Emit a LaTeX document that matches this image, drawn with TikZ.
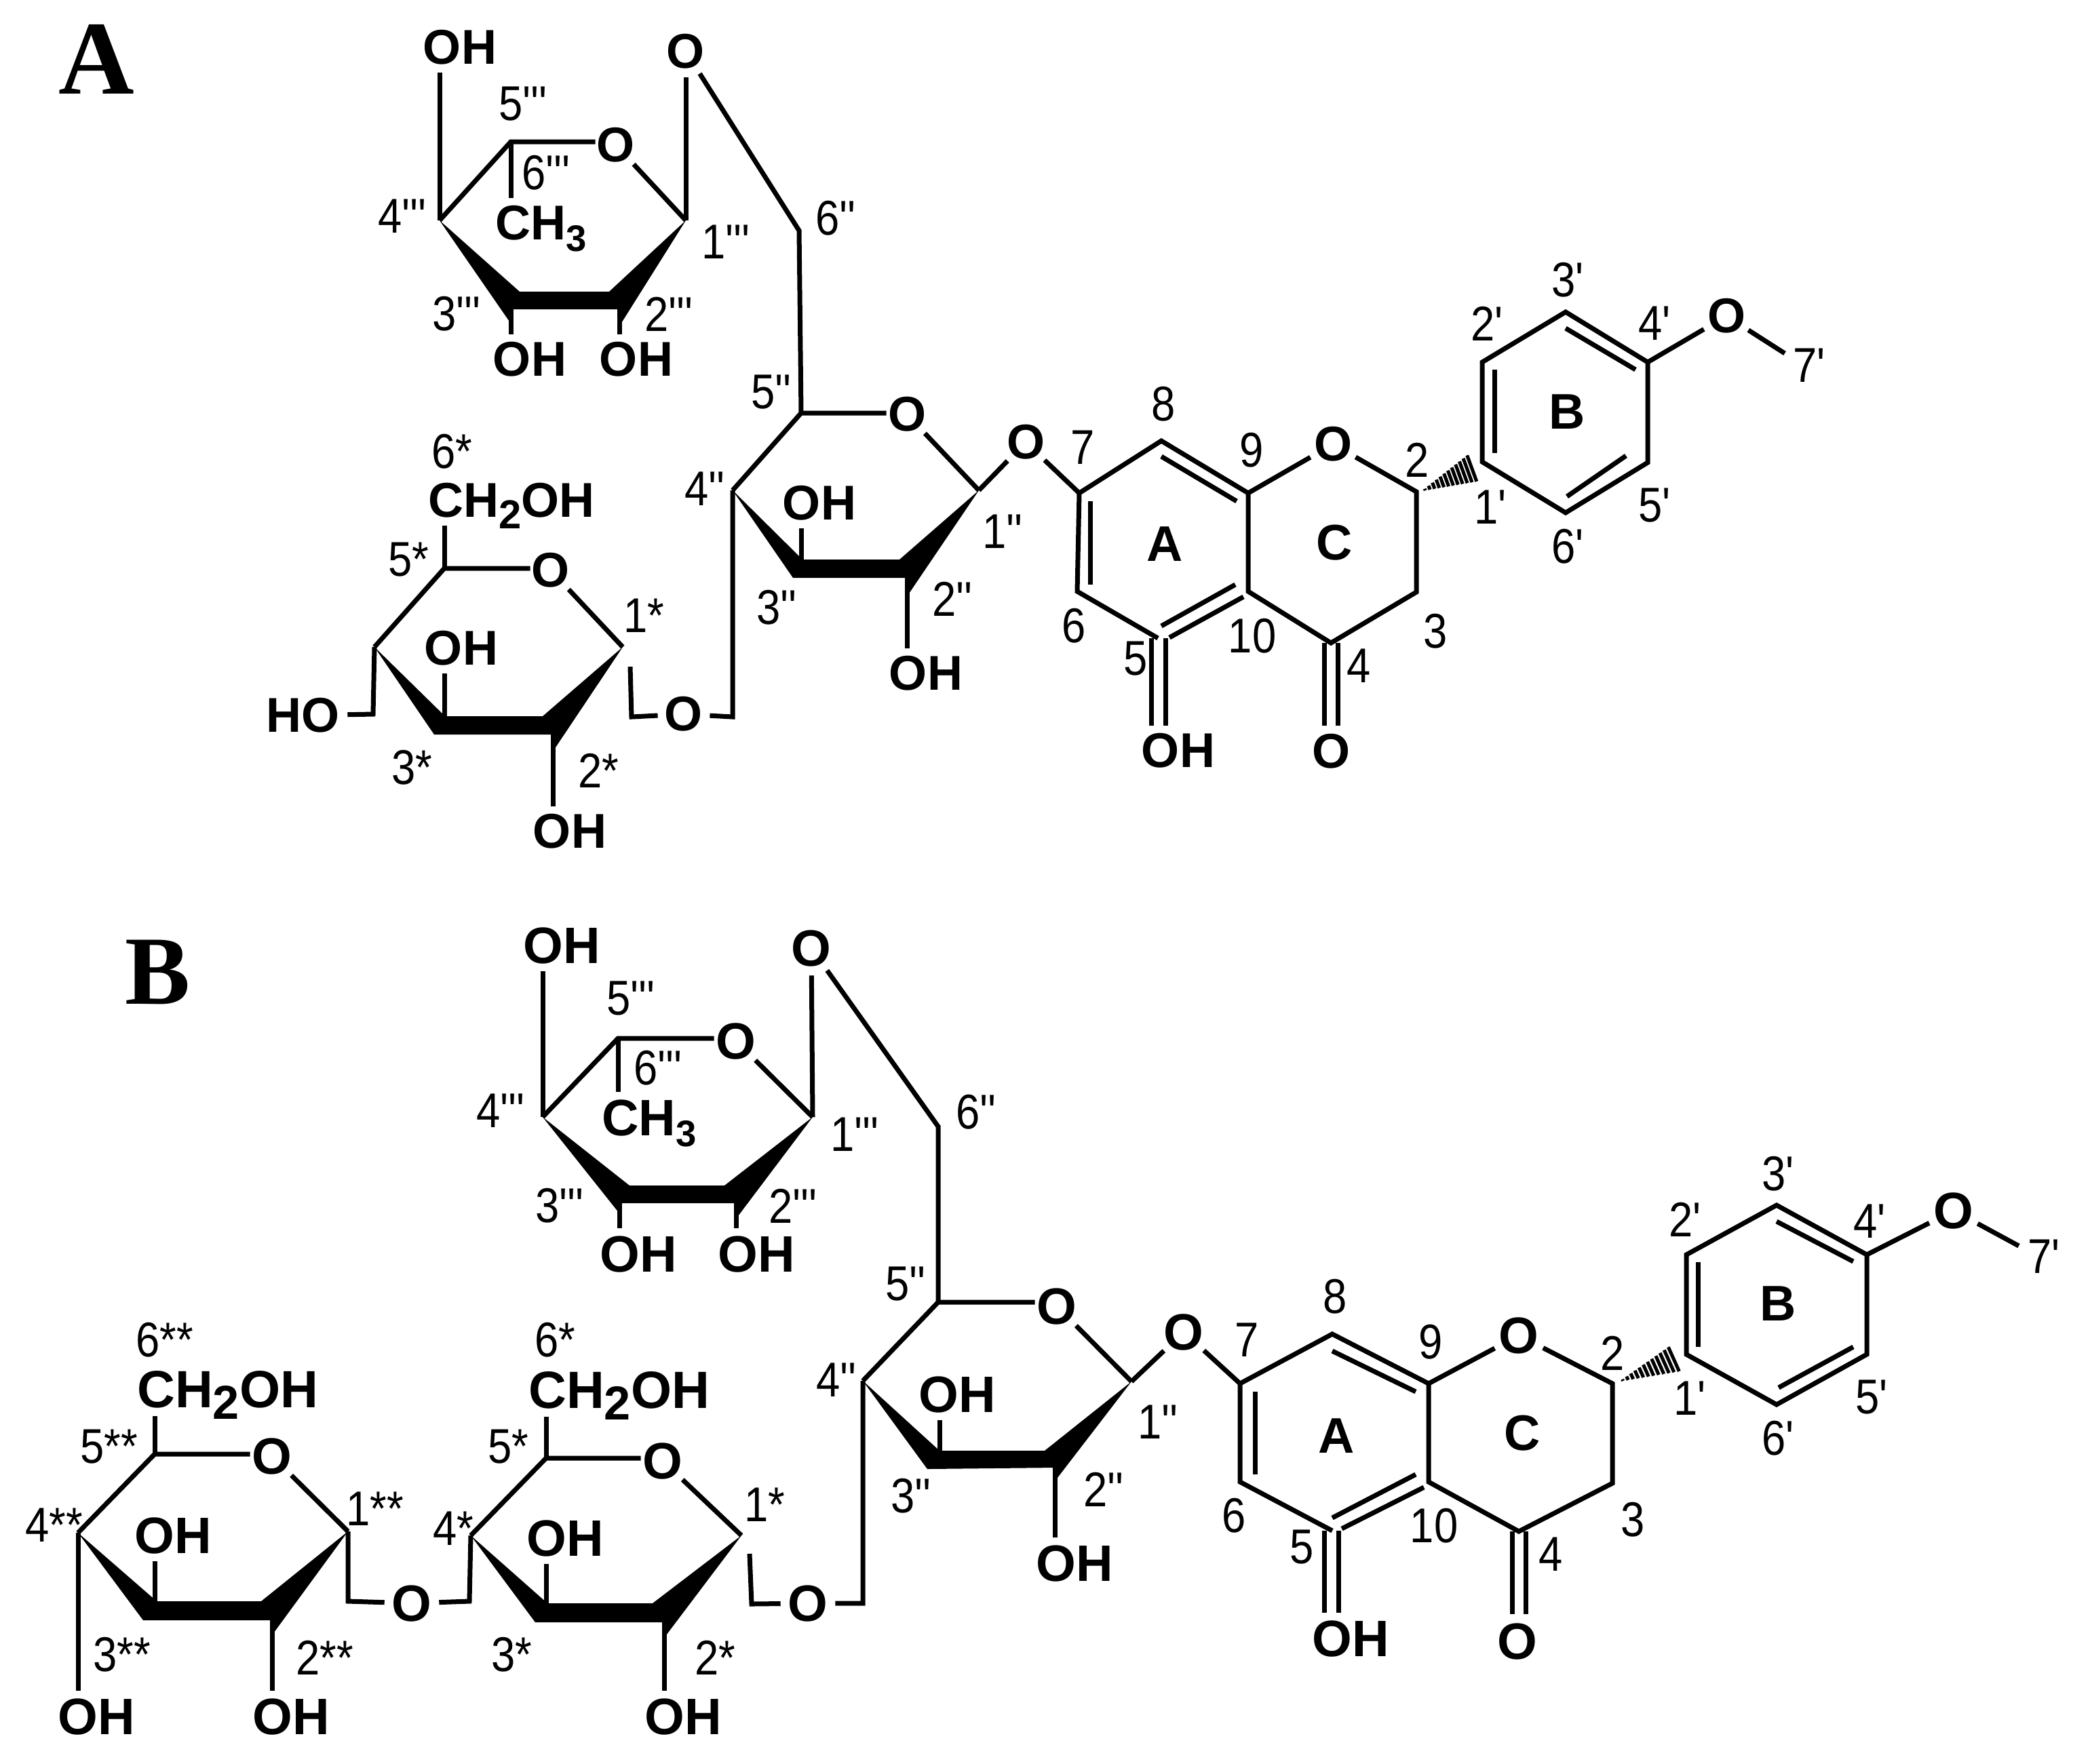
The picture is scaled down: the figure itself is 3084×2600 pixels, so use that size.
\documentclass[tikz,border=0pt]{standalone}
\usepackage{fontspec}
\usetikzlibrary{calc,shapes.geometric}
\newfontfamily\chemfont{Liberation Sans}
\newfontfamily\numfont[FakeStretch=0.88]{Liberation Sans}
\newfontfamily\panelfont{Liberation Serif}
\newcommand{\chemsub}[2][15.5]{\smash{\raisebox{-4.7pt}{\fontsize{#1}{16}\selectfont #2}}}
\tikzset{
	bond/.style={line width=0.7mm},
	hash/.style={line width=0.5mm},
	num/.style={font=\numfont\fontsize{20.5}{21}\selectfont, inner sep=0pt},
	oxa/.style={circle, inner sep=0pt, font=\chemfont\bfseries\fontsize{20.5}{21}\selectfont},
	oxb/.style={circle, inner sep=0pt, font=\chemfont\bfseries\fontsize{21.5}{22}\selectfont},
	groupa/.style={inner sep=3pt, font=\chemfont\bfseries\fontsize{20.5}{21}\selectfont},
	groupb/.style={inner sep=3pt, font=\chemfont\bfseries\fontsize{21.5}{22}\selectfont},
	ringname/.style={inner sep=0pt, font=\chemfont\bfseries\fontsize{21}{22}\selectfont},
	panel/.style={inner sep=0pt, font=\panelfont\bfseries\fontsize{44}{46}\selectfont},
	panelsmall/.style={inner sep=0pt, font=\panelfont\bfseries\fontsize{41}{43}\selectfont}
}
\begin{document}
\begin{tikzpicture}[x=0.1mm,y=-0.1mm]
	\useasboundingbox (0,0) rectangle (3084,2600);
	%%%%% PANEL A %%%%%
	\node[panel] (panela) at (142,87) {A};
	
	% rhamnose
	\coordinate (ar4) at (648,325);
	\coordinate (ar5) at (753,209);
	\coordinate (ar1) at (1011,325);
	\coordinate (ar3) at (753,456);
	\coordinate (ar2) at (913,456);
	\node[oxa] (aro) at (908,214) {O};
	\node[oxa] (arlink) at (1011,76) {O};
	\node[groupa] (arh4) at (678,70) {OH};
	\node[groupa] (arh3) at (781,530) {OH};
	\node[groupa] (arh2) at (938,530) {OH};
	\node[groupa, anchor=west] (ach3) at (719,329) {CH\chemsub{3}};
	\draw[bond] (ar4) -- (ar5) -- ([xshift=0.8mm]ar5 -| aro.west);
	\draw[bond] (aro) -- (ar1);
	\draw[bond] (ar4) -- (ar4 |- arh4.south);
	\draw[bond] (ar5) -- (ar5 |- ach3.north);
	\draw[bond] (ar1) -- (arlink);
	\draw[bond] (ar3) -- (ar3 |- arh3.north);
	\draw[bond] (ar2) -- (ar2 |- arh2.north);
	\fill (ar4) -- (766,430) -- (898,430) -- (ar1) -- (913,481) -- (913,456) -- (756,456) -- (753,477) -- cycle;
	
	% middle sugar
	\coordinate (ag6) at (1178,340);
	\coordinate (ag5) at (1181,609);
	\coordinate (ag4) at (1080,723);
	\coordinate (ag1) at (1443,723);
	\coordinate (ag3) at (1181,825);
	\coordinate (ag2) at (1337,852);
	\coordinate (agc) at (1080,1057);
	\node[oxa] (ago) at (1337,611) {O};
	\node[oxa] (aglink) at (1512,652) {O};
	\node[groupa] (agh3) at (1208,742) {OH};
	\node[groupa] (agh2) at (1365,993) {OH};
	\draw[bond] (arlink) -- (ag6) -- (ag5);
	\draw[bond] (ag4) -- (ag5) -- ([xshift=0.8mm]ag5 -| ago.west);
	\draw[bond] (ago) -- (ag1);
	\draw[bond] (ag1) -- (aglink);
	\draw[bond] (ag3) -- (ag3 |- agh3.south);
	\draw[bond] (ag2) -- (ag2 |- agh2.north);
	\fill (ag4) -- (1183,825) -- (1326,825) -- (ag1) -- (1340,875) -- (1337,852) -- (1169,852) -- cycle;
	
	% outer sugar
	\coordinate (as5) at (655,838);
	\coordinate (as4) at (552,954);
	\coordinate (as1) at (918,954);
	\coordinate (as3) at (655,1056);
	\coordinate (as2) at (815,1083);
	\coordinate (asend) at (929,983);
	\coordinate (asc) at (931,1057);
	\coordinate (ash) at (550,1053);
	\node[oxa] (aso) at (812,841) {O};
	\node[oxa] (aslink) at (1008,1053) {O};
	\node[groupa, anchor=west] (asch) at (620,738) {CH\chemsub[17]{2}OH};
	\node[groupa] (ash3) at (680,956) {OH};
	\node[groupa] (ash2) at (840,1226) {OH};
	\node[groupa] (asho) at (447,1055) {HO};
	\draw[bond] (as4) -- (as5) -- ([xshift=0.8mm]as5 -| aso.west);
	\draw[bond] (aso) -- (as1);
	\draw[bond] (as5) -- (as5 |- asch.south);
	\draw[bond] (as3) -- (as3 |- ash3.south);
	\draw[bond] (as2) -- (as2 |- ash2.north);
	\draw[bond] (as4) -- (ash) -- (asho);
	\draw[bond] (asend) -- (asc) -- (aslink) -- (agc) -- (ag4);
	\fill (as4) -- (656,1056) -- (800,1056) -- (as1) -- (817,1105) -- (815,1083) -- (640,1083) -- cycle;
	
	% flavanone
	\coordinate (a7) at (1591,727);
	\coordinate (a8) at (1712,650);
	\coordinate (a9) at (1840,727);
	\coordinate (a10) at (1840,872);
	\coordinate (a5) at (1707,941);
	\coordinate (a6) at (1588,872);
	\coordinate (a2) at (2088,725);
	\coordinate (a3) at (2088,873);
	\coordinate (a4) at (1962,948);
	\coordinate (a1p) at (2185,681);
	\coordinate (a2p) at (2185,534);
	\coordinate (a3p) at (2308,460);
	\coordinate (a4p) at (2429,534);
	\coordinate (a5p) at (2429,682);
	\coordinate (a6p) at (2308,756);
	\coordinate (a7p) at (2631,521);
	\coordinate (ahs) at (2096,724);
	\coordinate (ahu) at (2167,668);
	\coordinate (ahl) at (2182,709);
	\coordinate (ai1) at (1712,673); \coordinate (ai2) at (1823,739);
	\coordinate (ai3) at (1607,739); \coordinate (ai4) at (1607,862);
	\coordinate (ai5) at (1821,862); \coordinate (ai6) at (1712,923);
	\coordinate (ai7) at (1833,880); \coordinate (ai8) at (1724,940);
	\coordinate (ai9) at (2203,545); \coordinate (ai10) at (2203,668);
	\coordinate (ai11) at (2308,484); \coordinate (ai12) at (2411,545);
	\coordinate (ai13) at (2397,672); \coordinate (ai14) at (2310,732);
	\node[oxa] (afo) at (1965,655) {O};
	\node[oxa] (afk) at (1962,1108) {O};
	\node[oxa] (ameo) at (2545,466) {O};
	\node[groupa] (afh) at (1737,1107) {OH};
	\draw[bond] (aglink) -- (a7) -- (a8) -- (a9) -- (a10) -- (a4) -- (a3) -- (a2) -- (afo) -- (a9);
	\draw[bond] (a7) -- (a6) -- (a5);
	\draw[bond] (a1p) -- (a2p) -- (a3p) -- (a4p) -- (a5p) -- (a6p) -- (a1p) -- cycle;
	\draw[bond] (a4p) -- (ameo) -- (a7p);
	\draw[bond] (ai1) -- (ai2);
	\draw[bond] (ai3) -- (ai4);
	\draw[bond] (ai5) -- (ai6);
	\draw[bond] (ai7) -- (ai8);
	\draw[bond] (ai9) -- (ai10);
	\draw[bond] (ai11) -- (ai12);
	\draw[bond] (ai13) -- (ai14);
	\draw[bond] ([xshift=-1mm]a5) -- ([xshift=-1mm]a5 |- afh.north);
	\draw[bond] ([xshift=1.1mm]a5) -- ([xshift=1.1mm]a5 |- afh.north);
	\draw[bond] ([xshift=-1mm]a4) -- ([xshift=-1mm]a4 |- afk.north);
	\draw[bond] ([xshift=1mm]a4) -- ([xshift=1mm]a4 |- afk.north);
	\foreach \t in {0.06,0.14,...,1.0}
		\draw[hash] ($(ahs)!\t!(ahu)$) -- ($(ahs)!\t!(ahl)$);
	
	% ring letters
	\node[ringname] (aringa) at (1717,802) {A};
	\node[ringname] (aringc) at (1967,800) {C};
	\node[ringname] (aringb) at (2310,607) {B};
	
	% atom numbers
	\foreach \x/\y/\t [count=\i] in {
		771/153/5''', 805/255/6''', 593/319/4''', 1070/357/1''', 673/463/3''', 986/463/2''',
		1232/322/6'', 1137/578/5'', 1039/721/4'', 1478/784/1'', 1145/896/3'', 1404/883/2'',
		666/666/6*, 602/825/5*, 949/908/1*, 607/1132/3*, 882/1136/2*,
		1715/596/8, 1596/660/7, 1845/664/9, 1583/923/6, 1674/971/5, 1846/938/10,
		2116/931/3, 2003/982/4, 2089/678/2, 2197/748/1', 2192/477/2', 2311/413/3',
		2439/477/4', 2439/745/5', 2311/806/6', 2667/539/7'}
		\node[num] (anum\i) at (\x,\y) {\t};
	
	%%%%% PANEL B %%%%%
	\node[panelsmall] (panelb) at (233,1433) {B};
	
	% rhamnose
	\coordinate (br4) at (800,1647);
	\coordinate (br5) at (911,1531);
	\coordinate (br1) at (1198,1647);
	\coordinate (br3) at (913,1774);
	\coordinate (br2) at (1085,1774);
	\node[oxb] (bro) at (1085,1535) {O};
	\node[oxb] (brlink) at (1196,1398) {O};
	\node[groupb] (brh4) at (828,1394) {OH};
	\node[groupb] (brh3) at (941,1849) {OH};
	\node[groupb] (brh2) at (1115,1849) {OH};
	\node[groupb, anchor=west] (bch3) at (876,1648) {CH\chemsub{3}};
	\draw[bond] (br4) -- (br5) -- ([xshift=0.8mm]br5 -| bro.west);
	\draw[bond] (bro) -- (br1);
	\draw[bond] (br4) -- (br4 |- brh4.south);
	\draw[bond] (br5) -- (br5 |- bch3.north);
	\draw[bond] (br1) -- (brlink);
	\draw[bond] (br3) -- (br3 |- brh3.north);
	\draw[bond] (br2) -- (br2 |- brh2.north);
	\fill (br4) -- (928,1748) -- (1068,1748) -- (br1) -- (1085,1797) -- (1085,1774) -- (913,1774) -- (913,1789) -- cycle;
	
	% middle sugar
	\coordinate (bg6) at (1383,1661);
	\coordinate (bg5) at (1383,1920);
	\coordinate (bg4) at (1272,2036);
	\coordinate (bg1) at (1668,2037);
	\coordinate (bg3) at (1385,2139);
	\coordinate (bg2) at (1555,2164);
	\coordinate (bgc) at (1272,2364);
	\node[oxb] (bgo) at (1558,1926) {O};
	\node[oxb] (bglink) at (1745,1964) {O};
	\node[groupb] (bgh3) at (1411,2056) {OH};
	\node[groupb] (bgh2) at (1584,2305) {OH};
	\draw[bond] (brlink) -- (bg6) -- (bg5);
	\draw[bond] (bg4) -- (bg5) -- ([xshift=0.8mm]bg5 -| bgo.west);
	\draw[bond] (bgo) -- (bg1);
	\draw[bond] (bg1) -- (bglink);
	\draw[bond] (bg3) -- (bg3 |- bgh3.south);
	\draw[bond] (bg2) -- (bg2 |- bgh2.north);
	\fill (bg4) -- (1385,2139) -- (1540,2139) -- (bg1) -- (1555,2184) -- (1555,2164) -- (1367,2166) -- cycle;
	
	% second sugar
	\coordinate (bs5) at (805,2150);
	\coordinate (bs4) at (694,2264);
	\coordinate (bs1) at (1093,2264);
	\coordinate (bs3) at (805,2364);
	\coordinate (bs2) at (979,2392);
	\coordinate (bsend) at (1105,2291);
	\coordinate (bsc) at (1108,2365);
	\coordinate (bsd) at (692,2361);
	\node[oxb] (bso) at (977,2154) {O};
	\node[oxb] (bslink) at (1191,2364) {O};
	\node[groupb, anchor=west, font=\chemfont\bfseries\fontsize{22}{23}\selectfont] (bsch) at (768,2050) {CH\chemsub[20]{2}OH};
	\node[groupb] (bsh3) at (833,2268) {OH};
	\node[groupb] (bsh2) at (1007,2531) {OH};
	\draw[bond] (bs4) -- (bs5) -- ([xshift=0.8mm]bs5 -| bso.west);
	\draw[bond] (bso) -- (bs1);
	\draw[bond] (bs5) -- (bs5 |- bsch.south);
	\draw[bond] (bs3) -- (bs3 |- bsh3.south);
	\draw[bond] (bs2) -- (bs2 |- bsh2.north);
	\draw[bond] (bsend) -- (bsc) -- (bslink) -- (bgc) -- (bg4);
	\fill (bs4) -- (807,2364) -- (962,2364) -- (bs1) -- (979,2415) -- (977,2392) -- (789,2392) -- cycle;
	
	% outer sugar
	\coordinate (bt5) at (228,2144);
	\coordinate (bt4) at (115,2260);
	\coordinate (bt1) at (513,2258);
	\coordinate (bt3) at (228,2361);
	\coordinate (bt2) at (401,2389);
	\coordinate (btc) at (513,2361);
	\node[oxb] (bto) at (401,2147) {O};
	\node[oxb] (btlink) at (607,2364) {O};
	\node[groupb, anchor=west, font=\chemfont\bfseries\fontsize{22}{23}\selectfont] (btch) at (191,2049) {CH\chemsub[20]{2}OH};
	\node[groupb] (bth3) at (255,2264) {OH};
	\node[groupb] (bth2) at (429,2531) {OH};
	\node[groupb] (bth4) at (142,2531) {OH};
	\draw[bond] (bt4) -- (bt5) -- ([xshift=0.8mm]bt5 -| bto.west);
	\draw[bond] (bto) -- (bt1);
	\draw[bond] (bt5) -- (bt5 |- btch.south);
	\draw[bond] (bt3) -- (bt3 |- bth3.south);
	\draw[bond] (bt2) -- (bt2 |- bth2.north);
	\draw[bond] (bt4) -- (bt4 |- bth4.north);
	\draw[bond] (bt1) -- (btc) -- (btlink) -- (bsd) -- (bs4);
	\fill (bt4) -- (231,2361) -- (385,2361) -- (bt1) -- (401,2411) -- (400,2389) -- (211,2389) -- cycle;
	
	% flavanone
	\coordinate (b7) at (1828,2040);
	\coordinate (b8) at (1964,1967);
	\coordinate (b9) at (2106,2040);
	\coordinate (b10) at (2106,2185);
	\coordinate (b5) at (1964,2257);
	\coordinate (b6) at (1828,2185);
	\coordinate (b2) at (2377,2040);
	\coordinate (b3) at (2377,2187);
	\coordinate (b4) at (2239,2258);
	\coordinate (b1p) at (2486,1997);
	\coordinate (b2p) at (2486,1850);
	\coordinate (b3p) at (2619,1777);
	\coordinate (b4p) at (2752,1850);
	\coordinate (b5p) at (2752,1997);
	\coordinate (b6p) at (2619,2071);
	\coordinate (b7p) at (2976,1837);
	\coordinate (bhs) at (2387,2037);
	\coordinate (bhu) at (2464,1983);
	\coordinate (bhl) at (2481,2021);
	\coordinate (bi1) at (1964,1992); \coordinate (bi2) at (2087,2052);
	\coordinate (bi3) at (1850,2052); \coordinate (bi4) at (1850,2174);
	\coordinate (bi5) at (2087,2174); \coordinate (bi6) at (1964,2238);
	\coordinate (bi7) at (2099,2193); \coordinate (bi8) at (1978,2254);
	\coordinate (bi9) at (2503,1861); \coordinate (bi10) at (2503,1986);
	\coordinate (bi11) at (2619,1801); \coordinate (bi12) at (2732,1860);
	\coordinate (bi13) at (2732,1986); \coordinate (bi14) at (2622,2046);
	\node[oxb] (bfo) at (2239,1969) {O};
	\node[oxb] (bfk) at (2237,2420) {O};
	\node[oxb] (bmeo) at (2880,1785) {O};
	\node[groupb] (bfh) at (1991,2416) {OH};
	\draw[bond] (bglink) -- (b7) -- (b8) -- (b9) -- (b10) -- (b4) -- (b3) -- (b2) -- (bfo) -- (b9);
	\draw[bond] (b7) -- (b6) -- (b5);
	\draw[bond] (b1p) -- (b2p) -- (b3p) -- (b4p) -- (b5p) -- (b6p) -- (b1p) -- cycle;
	\draw[bond] (b4p) -- (bmeo) -- (b7p);
	\draw[bond] (bi1) -- (bi2);
	\draw[bond] (bi3) -- (bi4);
	\draw[bond] (bi5) -- (bi6);
	\draw[bond] (bi7) -- (bi8);
	\draw[bond] (bi9) -- (bi10);
	\draw[bond] (bi11) -- (bi12);
	\draw[bond] (bi13) -- (bi14);
	\draw[bond] ([xshift=-1.2mm]b5) -- ([xshift=-1.2mm]b5 |- bfh.north);
	\draw[bond] ([xshift=0.9mm]b5) -- ([xshift=0.9mm]b5 |- bfh.north);
	\draw[bond] ([xshift=-1mm]b4) -- ([xshift=-1mm]b4 |- bfk.north);
	\draw[bond] ([xshift=1mm]b4) -- ([xshift=1mm]b4 |- bfk.north);
	\foreach \t in {0.06,0.14,...,1.0}
		\draw[hash] ($(bhs)!\t!(bhu)$) -- ($(bhs)!\t!(bhl)$);
	
	% ring letters
	\node[ringname] (bringa) at (1970,2117) {A};
	\node[ringname] (bringc) at (2244,2113) {C};
	\node[ringname] (bringb) at (2621,1922) {B};
	
	% atom numbers
	\foreach \x/\y/\t [count=\i] in {
		930/1472/5''', 970/1575/6''', 738/1638/4''', 1260/1673/1''', 825/1778/3''', 1169/1778/2''',
		1439/1640/6'', 1335/1893/5'', 1233/2035/4'', 1707/2097/1'', 1343/2206/3'', 1627/2196/2'',
		818/1976/6*, 749/2133/5*, 1127/2219/1*, 668/2254/4*, 754/2440/3*, 1054/2444/2*,
		243/1976/6**, 161/2133/5**, 80/2249/4**, 553/2225/1**, 180/2440/3**, 479/2444/2**,
		1968/1912/8, 1838/1976/7, 2109/1979/9, 1819/2235/6, 1919/2281/5, 2114/2250/10,
		2407/2241/3, 2286/2292/4, 2377/1995/2, 2491/2062/1', 2484/1798/2', 2621/1731/3',
		2756/1801/4', 2759/2060/5', 2621/2121/6', 3013/1853/7'}
		\node[num] (bnum\i) at (\x,\y) {\t};
	%%%%% END %%%%%
\end{tikzpicture}
\end{document}
